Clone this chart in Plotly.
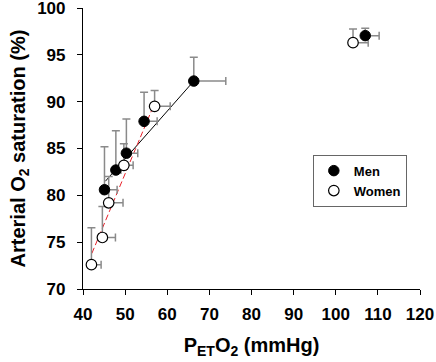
import plotly.graph_objects as go

# Men
men_x = [45.1, 47.8, 50.3, 54.5, 66.3, 107.0]
men_y = [80.6, 82.7, 84.5, 87.9, 92.2, 97.05]
men_x_err = [3.0, 1.2, 2.7, 3.1, 7.6, 3.3]
men_y_err = [4.6, 4.2, 3.65, 3.1, 2.55, 0.8]

# Women
women_x = [42.0, 44.6, 46.1, 49.7, 57.0, 104.1]
women_y = [72.6, 75.5, 79.2, 83.2, 89.5, 96.3]
women_x_err = [2.3, 3.1, 3.4, 2.2, 3.7, 3.6]
women_y_err = [3.95, 3.3, 2.8, 2.3, 1.7, 1.45]

# Regression lines
men_fit_x = [45.3, 66.3]
men_fit_y = [81.5, 92.2]
women_fit_x = [42.1, 56.5]
women_fit_y = [73.8, 89.3]

x_ticks = [40, 50, 60, 70, 80, 90, 100, 110, 120]
y_ticks = [70, 75, 80, 85, 90, 95, 100]

FONT = "Liberation Sans"
GRAY = "#8a8a8a"

fig = go.Figure()

# fit lines
fig.add_trace(go.Scatter(x=men_fit_x, y=men_fit_y, mode="lines",
                         line=dict(color="black", width=1), showlegend=False,
                         hoverinfo="skip"))
fig.add_trace(go.Scatter(x=women_fit_x, y=women_fit_y, mode="lines",
                         line=dict(color="#e8212a", width=1, dash="6px,3px"),
                         showlegend=False, hoverinfo="skip"))

# error bars (drawn under markers)
for xs, ys, ex, ey in [(men_x, men_y, men_x_err, men_y_err),
                       (women_x, women_y, women_x_err, women_y_err)]:
    fig.add_trace(go.Scatter(
        x=xs, y=ys, mode="markers", marker=dict(size=1, opacity=0),
        error_x=dict(type="data", array=ex, arrayminus=[0] * len(ex), symmetric=False,
                     color=GRAY, thickness=1.5, width=4),
        error_y=dict(type="data", array=ey, arrayminus=[0] * len(ey), symmetric=False,
                     color=GRAY, thickness=1.5, width=4),
        showlegend=False, hoverinfo="skip"))

# markers
fig.add_trace(go.Scatter(x=men_x, y=men_y, mode="markers", name="Men",
                         marker=dict(size=10.5, color="black",
                                     line=dict(color="black", width=1))))
fig.add_trace(go.Scatter(x=women_x, y=women_y, mode="markers", name="Women",
                         marker=dict(size=10.5, color="white",
                                     line=dict(color="black", width=1.2))))

fig.update_layout(
    width=436, height=362,
    margin=dict(l=83, r=16, t=8, b=73),
    plot_bgcolor="white", paper_bgcolor="white",
    font=dict(family=FONT, color="black"),
    legend=dict(x=0.682, y=0.478, xanchor="left", yanchor="top",
                bgcolor="white", bordercolor="#666666", borderwidth=1,
                font=dict(family=FONT, size=13, color="black", weight="bold"),
                entrywidth=84),
)

fig.update_xaxes(
    range=[40, 120], tickvals=x_ticks, ticktext=[str(v) for v in x_ticks],
    showgrid=False, zeroline=False, showline=True, linecolor="black", linewidth=1.2,
    ticks="outside", ticklen=5, tickwidth=1.2, tickcolor="black",
    tickfont=dict(family=FONT, size=17, color="black", weight="bold"),
    ticklabeloverflow="allow", ticklabelstandoff=4,
    title=dict(text="P<sub>ET</sub>O<sub>2</sub> (mmHg)",
               font=dict(family=FONT, size=20, color="black", weight="bold"),
               standoff=15),
    automargin=False,
)
fig.update_yaxes(
    range=[70, 100], tickvals=y_ticks, ticktext=[str(v) for v in y_ticks],
    showgrid=False, zeroline=False, showline=True, linecolor="black", linewidth=1.2,
    ticks="outside", ticklen=5, tickwidth=1.2, tickcolor="black",
    tickfont=dict(family=FONT, size=17, color="black", weight="bold"),
    ticklabeloverflow="allow", ticklabelstandoff=8,
    title=dict(text="Arterial O<sub>2</sub> saturation (%)",
               font=dict(family=FONT, size=20, color="black", weight="bold"),
               standoff=6),
    automargin=False,
)

fig.write_html("out.html", config={"displayModeBar": False},
               post_script="document.body.style.margin='0';document.body.style.overflow='hidden';")
